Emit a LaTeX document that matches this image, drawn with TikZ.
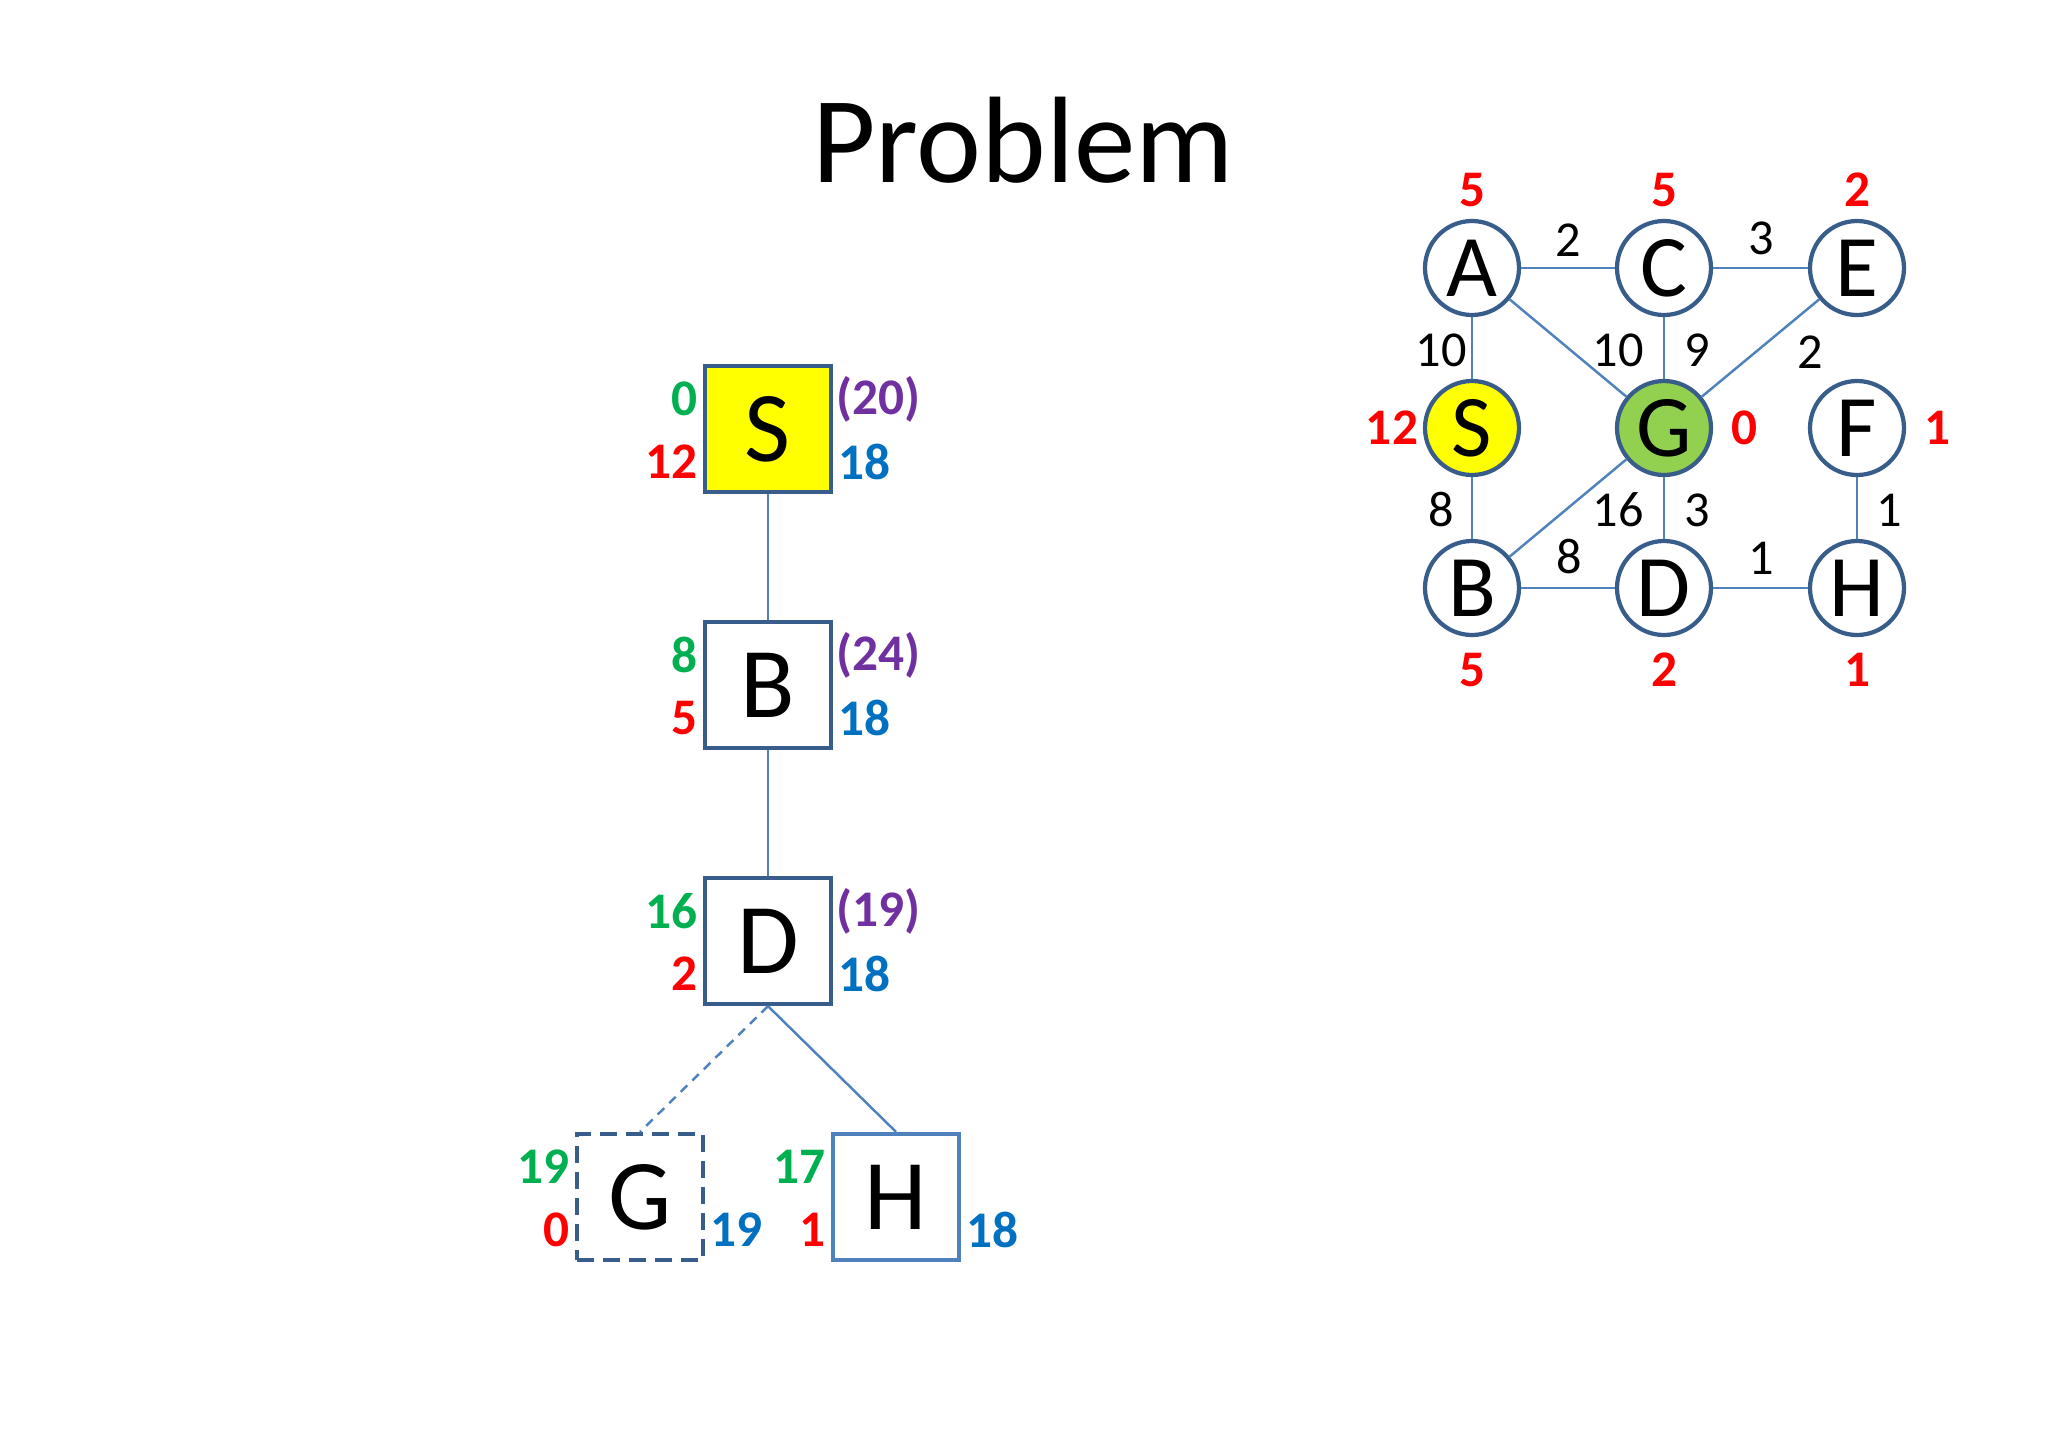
\documentclass[tikz,border=0pt]{standalone}
\usepackage{fontspec}
\setmainfont{Carlito}
\usepackage{tikz}
\usetikzlibrary{calc,positioning,shapes.geometric}
\definecolor{BoxBlue}{RGB}{56, 93, 138}
\definecolor{EdgeBlue}{RGB}{79, 129, 189}
\definecolor{CostGreen}{RGB}{0, 176, 80}
\definecolor{HeurRed}{RGB}{255, 0, 0}
\definecolor{FPurple}{RGB}{112, 48, 160}
\definecolor{BoundBlue}{RGB}{0, 112, 192}
\definecolor{GoalGreen}{RGB}{146, 208, 80}
\definecolor{StartYellow}{RGB}{255, 255, 0}

\tikzset{
    treebox/.style={draw=BoxBlue, line width=1.2pt, minimum size=1.26cm, inner sep=0pt,
        font=\fontsize{28.5}{30}\selectfont},
    vertex/.style={circle, draw=BoxBlue, line width=1.2pt, fill=white,
        minimum size=0.94cm, inner sep=0pt,
        font=\fontsize{25}{27}\selectfont},
    tag/.style={inner sep=0pt, font=\fontsize{14.6}{16}\selectfont\bfseries},
    weight/.style={inner sep=0pt, font=\fontsize{14.3}{16}\selectfont},
    link/.style={EdgeBlue, line width=0.7pt},
}

\begin{document}
\begin{tikzpicture}
    \useasboundingbox (0,0) rectangle (20.48,-14.34);
    \node[font=\fontsize{35}{38}\selectfont] (title) at (10.23,-1.40) {Problem};

    % search tree
    \node[treebox, fill=StartYellow] (tS) at (7.68,-4.29) {S};
    \node[treebox] (tB) at (7.68,-6.85) {B};
    \node[treebox] (tD) at (7.68,-9.41) {D};
    \node[treebox, dash pattern=on 4.8pt off 2.6pt] (tG) at (6.40,-11.97) {G};
    \node[treebox, draw=EdgeBlue] (tH) at (8.96,-11.97) {H};
    \draw[link] (tS) -- (tB);
    \draw[link] (tB) -- (tD);
    \draw[link] (tD.south) -- (tH.north);
    \draw[link, dash pattern=on 2.6pt off 2pt] (tD.south) -- (tG.north);
    \foreach \n/\g/\h/\b in {tS/0/12/18, tB/8/5/18, tD/16/2/18, tG/19/0/19, tH/17/1/18} {
        \node[tag, CostGreen, anchor=east] at ($(\n.west)+(-0.05,0.30)$) {\g};
        \node[tag, HeurRed, anchor=east] at ($(\n.west)+(-0.05,-0.33)$) {\h};
        \node[tag, BoundBlue, anchor=west] at ($(\n.east)+(0.05,-0.33)$) {\b};
    }
    \foreach \n/\f in {tS/(20), tB/(24), tD/(19)} {
        \node[tag, FPurple, anchor=west] at ($(\n.east)+(0.03,0.30)$) {\f};
    }

    % problem graph
    \node[vertex] (vA) at (14.72,-2.68) {A};
    \node[vertex] (vC) at (16.64,-2.68) {C};
    \node[vertex] (vE) at (18.57,-2.68) {E};
    \node[vertex, fill=StartYellow] (vS) at (14.72,-4.28) {S};
    \node[vertex, fill=GoalGreen] (vG) at (16.64,-4.28) {G};
    \node[vertex] (vF) at (18.57,-4.28) {F};
    \node[vertex] (vB) at (14.72,-5.88) {B};
    \node[vertex] (vD) at (16.64,-5.88) {D};
    \node[vertex] (vH) at (18.57,-5.88) {H};
    \foreach \a/\b in {vA/vC, vC/vE, vA/vS, vA/vG, vC/vG, vE/vG, vS/vB, vG/vB, vG/vD, vB/vD, vD/vH, vF/vH} {
        \draw[link] (\a) -- (\b);
    }
    \foreach \p/\w in {{(15.68,-2.40)}/2, {(17.61,-2.38)}/3, {(14.41,-3.50)}/10, {(16.18,-3.50)}/10,
                       {(16.97,-3.50)}/9, {(18.10,-3.52)}/2, {(14.41,-5.10)}/8, {(16.18,-5.10)}/16,
                       {(16.97,-5.10)}/3, {(18.89,-5.10)}/1, {(15.69,-5.57)}/8, {(17.61,-5.58)}/1} {
        \node[weight] at \p {\w};
    }
    % heuristic values
    \foreach \n/\h in {vA/5, vC/5, vE/2} {
        \node[tag, HeurRed] at ($(\n)+(0,0.78)$) {\h};
    }
    \foreach \n/\h in {vB/5, vD/2, vH/1} {
        \node[tag, HeurRed] at ($(\n)+(0,-0.82)$) {\h};
    }
    \node[tag, HeurRed] at ($(vS)+(-0.80,0)$) {12};
    \node[tag, HeurRed] at ($(vG)+(0.80,0)$) {0};
    \node[tag, HeurRed] at ($(vF)+(0.80,0)$) {1};
\end{tikzpicture}
\end{document}
